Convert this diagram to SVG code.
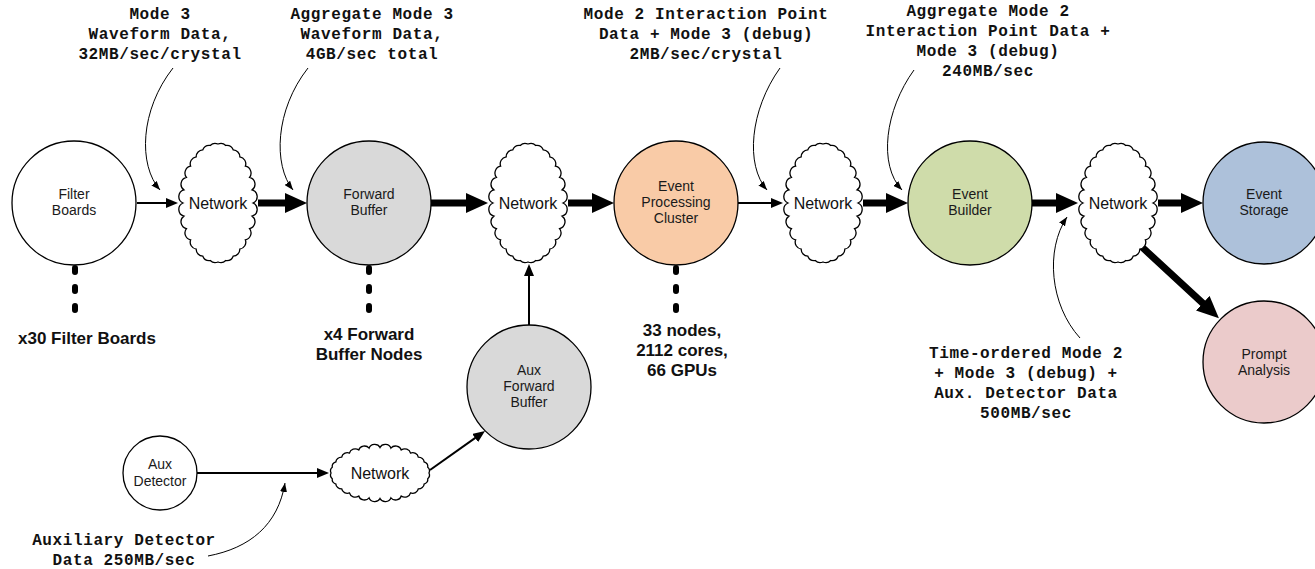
<svg xmlns="http://www.w3.org/2000/svg" xmlns:xlink="http://www.w3.org/1999/xlink" width="1315" height="569" viewBox="0 0 1315 569">
  <style>
    .node { stroke: #000; stroke-width: 1.3; }
    .lbl { font-family: "Liberation Sans", Arial, sans-serif; font-size: 14px; fill: #1a1a1a; text-anchor: middle; }
    .net { font-family: "Liberation Sans", Arial, sans-serif; font-size: 16px; fill: #111; text-anchor: middle; }
    .count { font-family: "Liberation Sans", Arial, sans-serif; font-size: 17px; font-weight: bold; fill: #111; text-anchor: middle; }
    .note { font-family: "Liberation Mono", "Courier New", monospace; font-size: 16px; font-weight: bold; letter-spacing: 0.6px; fill: #111; text-anchor: middle; }
    .thick { stroke: #000; stroke-width: 7; fill: none; marker-end: url(#head-lg); }
    .thin { stroke: #000; stroke-width: 2; fill: none; marker-end: url(#head-sm); }
    .callout { stroke: #000; stroke-width: 1; fill: none; marker-end: url(#head-xs); }
    .dots { stroke: #000; stroke-width: 6; stroke-linecap: round; stroke-dasharray: 4 15; fill: none; }
  </style>
  <defs>
    <marker id="head-lg" markerUnits="userSpaceOnUse" markerWidth="22" markerHeight="20" refX="1" refY="10" orient="auto">
      <path d="M0,0 L22,10 L0,20 z" fill="#000"/>
    </marker>
    <marker id="head-sm" markerUnits="userSpaceOnUse" markerWidth="12" markerHeight="10" refX="1" refY="5" orient="auto">
      <path d="M0,0 L12,5 L0,10 z" fill="#000"/>
    </marker>
    <marker id="head-xs" markerUnits="userSpaceOnUse" markerWidth="9" markerHeight="7" refX="9" refY="3.5" orient="auto">
      <path d="M0,0 L9,3.5 L0,7 z" fill="#000"/>
    </marker>
    <!-- scalloped cloud outline, centred on the origin -->
    <path id="cloud" vector-effect="non-scaling-stroke" fill="#fff" stroke="#000" stroke-width="1.3"
      d="M0,-59 A7,7 0 0 1 7.79,-57.52 A7,7 0 0 1 15.19,-53.16 A7,7 0 0 1 21.82,-46.13 A7,7 0 0 1 27.36,-36.79 A7,7 0 0 1 31.54,-25.6 A7,7 0 0 1 34.12,-13.13 A7,7 0 0 1 35,0 A7,7 0 0 1 34.12,13.13 A7,7 0 0 1 31.54,25.6 A7,7 0 0 1 27.36,36.79 A7,7 0 0 1 21.82,46.13 A7,7 0 0 1 15.19,53.16 A7,7 0 0 1 7.79,57.52 A7,7 0 0 1 0,59 A7,7 0 0 1 -7.79,57.52 A7,7 0 0 1 -15.19,53.16 A7,7 0 0 1 -21.82,46.13 A7,7 0 0 1 -27.36,36.79 A7,7 0 0 1 -31.54,25.6 A7,7 0 0 1 -34.12,13.13 A7,7 0 0 1 -35,0 A7,7 0 0 1 -34.12,-13.13 A7,7 0 0 1 -31.54,-25.6 A7,7 0 0 1 -27.36,-36.79 A7,7 0 0 1 -21.82,-46.13 A7,7 0 0 1 -15.19,-53.16 A7,7 0 0 1 -7.79,-57.52 A7,7 0 0 1 0,-59 Z"/>
  </defs>

  <rect width="1315" height="569" fill="#fff"/>

  <!-- connectors -->
  <g id="connectors">
    <line class="thin" x1="137" y1="203" x2="167" y2="203"/>
    <line class="thick" x1="258" y1="203" x2="286" y2="203"/>
    <line class="thick" x1="431" y1="203" x2="467" y2="203"/>
    <line class="thick" x1="568" y1="203" x2="593" y2="203"/>
    <line class="thin" x1="738" y1="203" x2="772" y2="203"/>
    <line class="thick" x1="863" y1="203" x2="887" y2="203"/>
    <line class="thick" x1="1032" y1="203" x2="1057" y2="203"/>
    <line class="thick" x1="1158" y1="203" x2="1182" y2="203"/>
    <line class="thick" x1="1143" y1="248" x2="1203.5" y2="303.9" stroke-linecap="round"/>
    <line class="thin" x1="529" y1="325" x2="529" y2="275"/>
    <line class="thin" x1="197" y1="473" x2="318" y2="473"/>
    <line class="thin" x1="430" y1="470" x2="476" y2="437.4"/>
    <!-- replication indicators -->
    <line class="dots" x1="75" y1="268" x2="75" y2="312"/>
    <line class="dots" x1="369" y1="268" x2="369" y2="312"/>
    <line class="dots" x1="676" y1="268" x2="676" y2="312"/>
    <!-- callout pointers -->
    <path class="callout" d="M173,68 C140,110 138,165 160,190"/>
    <path class="callout" d="M308,68 C275,110 273,165 293,190"/>
    <path class="callout" d="M780,68 C750,110 745,165 767,190"/>
    <path class="callout" d="M914,70 C885,110 878,165 902,190"/>
    <path class="callout" d="M1080,338 C1050,305 1045,250 1067,217"/>
    <path class="callout" d="M208,556 C250,548 278,525 285,483"/>
  </g>

  <g id="filter-boards">
    <circle class="node" cx="74" cy="203" r="62" fill="#fff"/>
    <text class="lbl" x="74" y="199">Filter</text>
    <text class="lbl" x="74" y="215">Boards</text>
  </g>
  <g id="network-1">
    <use xlink:href="#cloud" href="#cloud" transform="translate(218,203)"/>
    <text class="net" x="218" y="209">Network</text>
  </g>
  <g id="forward-buffer">
    <circle class="node" cx="369" cy="203" r="62" fill="#d9d9d9"/>
    <text class="lbl" x="369" y="199">Forward</text>
    <text class="lbl" x="369" y="215">Buffer</text>
  </g>
  <g id="network-2">
    <use xlink:href="#cloud" href="#cloud" transform="translate(528,203)"/>
    <text class="net" x="528" y="209">Network</text>
  </g>
  <g id="event-processing-cluster">
    <circle class="node" cx="676" cy="203" r="62" fill="#f9cba7"/>
    <text class="lbl" x="676" y="191">Event</text>
    <text class="lbl" x="676" y="207">Processing</text>
    <text class="lbl" x="676" y="223">Cluster</text>
  </g>
  <g id="network-3">
    <use xlink:href="#cloud" href="#cloud" transform="translate(823,203)"/>
    <text class="net" x="823" y="209">Network</text>
  </g>
  <g id="event-builder">
    <circle class="node" cx="970" cy="203" r="62" fill="#cfdcaa"/>
    <text class="lbl" x="970" y="199">Event</text>
    <text class="lbl" x="970" y="215">Builder</text>
  </g>
  <g id="network-4">
    <use xlink:href="#cloud" href="#cloud" transform="translate(1118,203)"/>
    <text class="net" x="1118" y="209">Network</text>
  </g>
  <g id="event-storage">
    <circle class="node" cx="1264" cy="203" r="61" fill="#adc1da"/>
    <text class="lbl" x="1264" y="199">Event</text>
    <text class="lbl" x="1264" y="215">Storage</text>
  </g>
  <g id="prompt-analysis">
    <circle class="node" cx="1264" cy="362" r="61" fill="#ebcbcb"/>
    <text class="lbl" x="1264" y="359">Prompt</text>
    <text class="lbl" x="1264" y="375">Analysis</text>
  </g>
  <g id="aux-forward-buffer">
    <circle class="node" cx="529" cy="387" r="62" fill="#d9d9d9"/>
    <text class="lbl" x="529" y="375">Aux</text>
    <text class="lbl" x="529" y="391">Forward</text>
    <text class="lbl" x="529" y="407">Buffer</text>
  </g>
  <g id="aux-detector">
    <circle class="node" cx="160" cy="473" r="37" fill="#fff"/>
    <text class="lbl" x="160" y="469">Aux</text>
    <text class="lbl" x="160" y="486">Detector</text>
  </g>
  <g id="network-aux">
    <use xlink:href="#cloud" href="#cloud" transform="translate(380,473) scale(0.83,0.73) rotate(90)"/>
    <text class="net" x="380" y="479">Network</text>
  </g>

  <g id="counts">
    <text class="count" x="87" y="344">x30 Filter Boards</text>
    <text class="count" x="369" y="340">x4 Forward</text>
    <text class="count" x="369" y="360">Buffer Nodes</text>
    <text class="count" x="682" y="336">33 nodes,</text>
    <text class="count" x="682" y="356">2112 cores,</text>
    <text class="count" x="682" y="376">66 GPUs</text>
  </g>

  <g id="rate-notes">
    <text class="note" x="160" y="19">Mode 3</text>
    <text class="note" x="160" y="39">Waveform Data,</text>
    <text class="note" x="160" y="59">32MB/sec/crystal</text>

    <text class="note" x="372" y="19">Aggregate Mode 3</text>
    <text class="note" x="372" y="39">Waveform Data,</text>
    <text class="note" x="372" y="59">4GB/sec total</text>

    <text class="note" x="706" y="19">Mode 2 Interaction Point</text>
    <text class="note" x="706" y="39">Data + Mode 3 (debug)</text>
    <text class="note" x="706" y="59">2MB/sec/crystal</text>

    <text class="note" x="988" y="16">Aggregate Mode 2</text>
    <text class="note" x="988" y="36">Interaction Point Data +</text>
    <text class="note" x="988" y="56">Mode 3 (debug)</text>
    <text class="note" x="988" y="76">240MB/sec</text>

    <text class="note" x="1026" y="358">Time-ordered Mode 2</text>
    <text class="note" x="1026" y="378">+ Mode 3 (debug) +</text>
    <text class="note" x="1026" y="398">Aux. Detector Data</text>
    <text class="note" x="1026" y="418">500MB/sec</text>

    <text class="note" x="124" y="545">Auxiliary Detector</text>
    <text class="note" x="124" y="565">Data 250MB/sec</text>
  </g>
</svg>
